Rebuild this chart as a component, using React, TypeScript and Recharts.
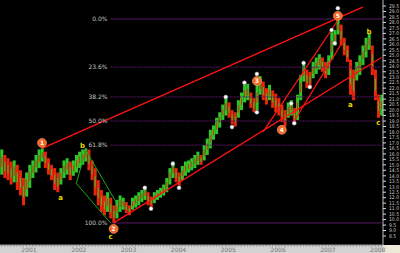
import { ComposedChart, Bar, XAxis, YAxis, ReferenceLine, ReferenceDot } from "recharts";

// bar ranges (price units)
const HIGHS = [
  16.4, 15.9, 15.6, 15.3, 15.4, 15.0, 14.5, 13.8, 14.3, 15.0, 15.4, 15.9, 16.4, 16.5, 16.2, 15.6,
  15.0, 14.7, 14.3, 14.7, 15.4, 15.6, 15.3, 15.4, 15.9, 16.2, 16.4, 16.5, 16.4, 15.4, 14.7, 13.6,
  12.7, 12.2, 12.5, 12.0, 11.3, 11.8, 12.2, 12.0, 11.6, 11.3, 12.0, 12.2, 12.5, 12.7, 13.0, 12.5,
  12.1, 12.5, 12.7, 12.9, 13.2, 13.8, 14.7, 15.3, 14.7, 14.3, 14.9, 15.3, 15.4, 15.6, 15.9, 16.2,
  15.9, 16.8, 17.4, 18.2, 18.6, 19.3, 19.8, 20.5, 21.1, 20.7, 20.0, 19.8, 20.9, 21.6, 22.3, 22.4,
  21.6, 21.1, 22.3, 23.1, 22.6, 22.0, 22.3, 21.8, 21.5, 21.1, 20.5, 20.0, 20.7, 20.9, 20.2, 21.4,
  23.2, 24.3, 23.7, 23.5, 24.4, 24.8, 25.1, 24.8, 24.4, 25.0, 27.1, 27.3, 28.3, 27.8, 26.6, 25.9,
  24.6, 23.7, 24.4, 25.0, 25.9, 26.6, 27.0, 25.9, 23.7, 21.4, 21.4,
];
const LOWS = [
  14.1, 13.8, 13.6, 13.2, 13.4, 12.7, 12.2, 11.3, 12.1, 12.9, 13.8, 14.3, 14.7, 15.3, 14.7, 14.1,
  13.6, 12.7, 12.5, 13.2, 13.8, 14.1, 13.6, 14.0, 14.3, 14.7, 15.0, 15.3, 14.5, 13.6, 12.2, 11.3,
  10.7, 10.4, 10.7, 10.1, 9.7, 10.1, 10.7, 10.9, 10.6, 10.4, 10.9, 11.1, 11.3, 11.6, 11.8, 11.3,
  11.1, 11.5, 11.8, 12.0, 12.2, 12.5, 13.2, 13.8, 13.4, 13.1, 13.6, 14.0, 14.3, 14.5, 14.7, 15.0,
  15.0, 15.4, 15.9, 16.5, 17.3, 17.8, 18.4, 19.1, 19.5, 19.3, 18.7, 18.5, 19.3, 20.0, 20.7, 20.9,
  20.2, 19.8, 20.0, 21.4, 20.9, 20.5, 20.9, 20.2, 19.8, 19.5, 18.9, 18.5, 19.3, 19.5, 18.7, 19.1,
  20.9, 22.6, 22.0, 22.0, 22.9, 23.3, 23.7, 23.5, 22.9, 23.2, 24.6, 25.9, 26.9, 25.9, 25.0, 24.4,
  21.4, 20.9, 22.7, 23.2, 24.1, 24.8, 25.5, 23.2, 20.9, 19.3, 19.5,
];

const PRICE_TICKS = [
  8.5, 9, 9.5, 10, 10.5, 11, 11.5, 12, 12.5, 13, 13.5, 14, 14.5, 15, 15.5, 16, 16.5, 17, 17.5, 18,
  18.5, 19, 19.5, 20, 20.5, 21, 21.5, 22, 22.5, 23, 23.5, 24, 24.5, 25, 25.5, 26, 26.5, 27, 27.5,
  28, 28.5, 29, 29.5,
];
const YEARS = ["2001", "2002", "2003", "2004", "2005", "2006", "2007", "2008"];
const YEAR_BARS = [7, 23, 39, 55, 71, 87, 103, 119];

const FIB_LABELS = ["0.0%", "23.6%", "38.2%", "50.0%", "61.8%", "100.0%"];
const FIB_PRICES = [28.31, 23.92, 21.2, 19.0, 16.8, 9.69];

const WAVE_NUMBERS = ["1", "2", "3", "4", "5"];
const WAVE_BARS = [13, 36, 82, 90, 108];
const WAVE_PRICES = [17.0, 9.15, 22.65, 18.2, 28.6];

const DOT_BARS = [46, 48, 55, 57, 72, 74, 78, 82, 82, 93, 94, 97, 99, 106, 107, 108];
const DOT_PRICES = [12.9, 11.0, 15.1, 12.9, 21.2, 18.45, 22.5, 19.8, 23.3, 20.6, 18.8, 24.3, 22.1, 27.3, 26.1, 29.3];

const ABC_LETTERS = ["a", "b", "c", "a", "b", "c"];
const ABC_BARS = [19, 26, 35, 112, 118, 121];
const ABC_PRICES = [12.0, 16.7, 8.4, 20.5, 27.1, 18.8];

// [bar1, price1, bar2, price2]
const RED_LINES = [
  [13, 16.5, 116, 29.4],
  [36, 9.7, 122, 24.8],
  [84, 18.0, 108, 28.2],
  [94, 19.0, 109, 26.0],
];
const GREEN_LINES = [
  [27, 16.35, 24, 13.3],
  [24, 13.3, 35, 9.7],
  [27, 16.35, 37, 11.5],
];

const GREEN = "#2fc62a";
const RED = "#e8260c";
const FONT = "DejaVu Sans";

const rows = HIGHS.map((h, i) => ({
  i,
  range: [LOWS[i], h],
  up: i === 0 || h + LOWS[i] >= HIGHS[i - 1] + LOWS[i - 1],
}));

const Candle = (props: any) => {
  const { x, y, width, height, payload } = props;
  const top = Math.min(y, y + height);
  const h = Math.abs(height);
  const main = payload.up ? GREEN : RED;
  const alt = payload.up ? RED : GREEN;
  return (
    <g>
      <rect x={x} y={top} width={width} height={h} fill={main} />
      <rect x={x + width / 2 - 0.5} y={top + h * 0.3} width={1} height={h * 0.4} fill={alt} />
    </g>
  );
};

const YearTick = (props: any) => {
  const { x, y, payload } = props;
  const k = YEAR_BARS.indexOf(payload.value);
  return (
    <g>
      <line x1={x} x2={x} y1={y} y2={y + 1.5} stroke="#666" strokeWidth={0.6} />
      {k >= 0 && (
        <text x={x - 2} y={y + 7.3} fontSize={6} fill="#777" fontFamily={FONT}>
          {YEARS[k]}
        </text>
      )}
    </g>
  );
};

export default function App() {
  return (
    <div style={{ position: "fixed", left: 0, top: 0, width: 400, height: 253, background: "#000" }}>
      <div style={{ position: "absolute", left: 0, top: 245, width: 383, height: 8, background: "#d2d2d2" }} />
      <div style={{ position: "absolute", left: 383, top: 245, width: 17, height: 8, background: "#ece9d8" }} />
      <div style={{ position: "absolute", left: 0, top: 0 }}>
        <ComposedChart
          width={400}
          height={253}
          data={rows}
          margin={{ top: 0, right: 0, bottom: 0, left: 0 }}
          barCategoryGap="8%"
        >
          <XAxis
            dataKey="i"
            type="category"
            height={8}
            interval={0}
            tickSize={0}
            tickMargin={0}
            tickLine={false}
            axisLine={{ stroke: "#999" }}
            tick={<YearTick />}
          />
          <YAxis
            orientation="right"
            type="number"
            width={17}
            domain={[7.68, 30.05]}
            allowDataOverflow
            ticks={PRICE_TICKS}
            interval={0}
            tickSize={3}
            tickMargin={3}
            tickLine={{ stroke: "#ddd" }}
            axisLine={{ stroke: "#bbb" }}
            tick={{ fontSize: 5, fill: "#c8c8c8", fontFamily: "DejaVu Sans Condensed" }}
            tickFormatter={(v) => Number(v).toFixed(1)}
          />
          {FIB_PRICES.map((p, k) => (
            <ReferenceLine
              key={"f" + k}
              segment={[{ x: 35, y: p }, { x: 122, y: p }]}
              stroke="#5a1868"
              strokeWidth={1}
              strokeDasharray={k === 0 || k === FIB_PRICES.length - 1 ? undefined : "2 1"}
              label={{ value: FIB_LABELS[k], position: "left", offset: 3, fill: "#c4c4c4", fontSize: 6, fontFamily: FONT }}
            />
          ))}
          <Bar dataKey="range" shape={<Candle />} isAnimationActive={false} />
          {GREEN_LINES.map((l, k) => (
            <ReferenceLine
              key={"g" + k}
              segment={[{ x: l[0], y: l[1] }, { x: l[2], y: l[3] }]}
              stroke="#1fa81f"
              strokeWidth={1}
            />
          ))}
          {RED_LINES.map((l, k) => (
            <ReferenceLine
              key={"r" + k}
              segment={[{ x: l[0], y: l[1] }, { x: l[2], y: l[3] }]}
              stroke="#ff1212"
              strokeWidth={1.3}
            />
          ))}
          {DOT_BARS.map((b, k) => (
            <ReferenceDot key={"d" + k} x={b} y={DOT_PRICES[k]} r={2} fill="#fff" stroke="#888" strokeWidth={0.5} />
          ))}
          {WAVE_BARS.map((b, k) => (
            <ReferenceDot
              key={"w" + k}
              x={b}
              y={WAVE_PRICES[k]}
              r={4.5}
              fill="#f26522"
              stroke="#ffa468"
              strokeWidth={0.6}
              label={{ value: WAVE_NUMBERS[k], position: "center", fill: "#fff", fontSize: 6, fontWeight: "bold", fontFamily: FONT }}
            />
          ))}
          {ABC_BARS.map((b, k) => (
            <ReferenceDot
              key={"l" + k}
              x={b}
              y={ABC_PRICES[k]}
              r={3}
              shape={(p: any) => (
                <text
                  x={p.cx}
                  y={p.cy}
                  fill="#e8d800"
                  fontSize={7}
                  fontWeight="bold"
                  fontFamily={FONT}
                  textAnchor="middle"
                  dominantBaseline="central"
                >
                  {ABC_LETTERS[k]}
                </text>
              )}
            />
          ))}
        </ComposedChart>
      </div>
    </div>
  );
}
